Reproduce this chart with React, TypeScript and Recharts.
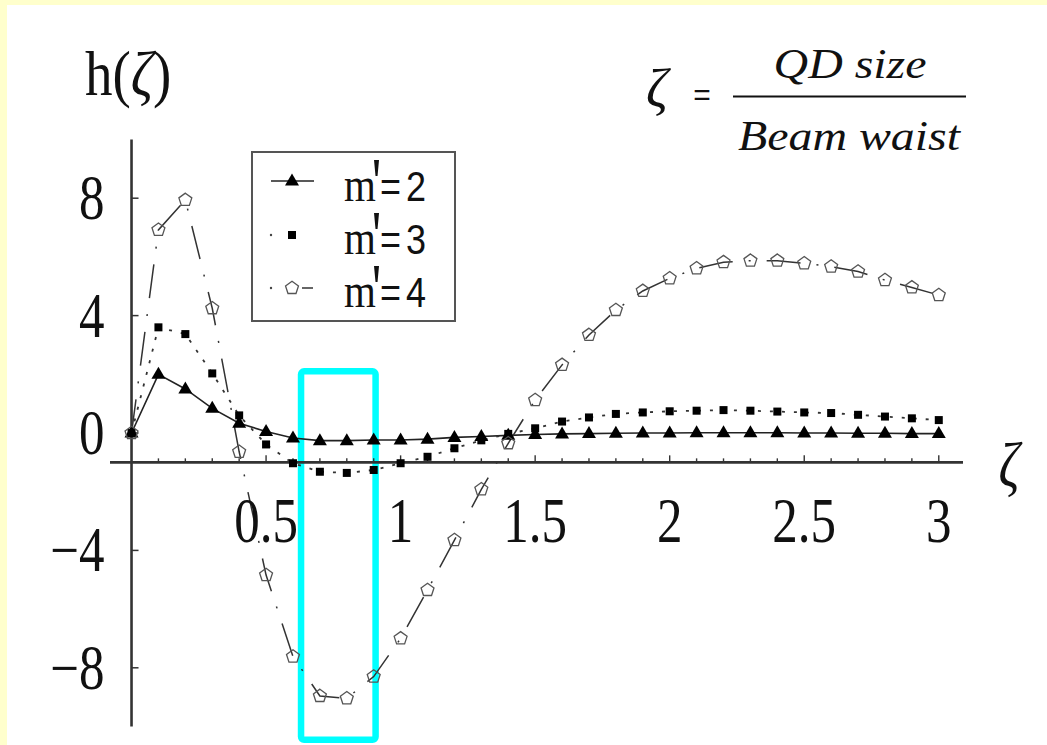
import React from 'react';
import { LineChart, Line, XAxis, YAxis, ReferenceLine, ReferenceDot, ReferenceArea, Legend } from 'recharts';

// zeta = QD size / beam waist, sampled every 0.1
const zeta = [
  0, 0.1, 0.2, 0.3, 0.4, 0.5, 0.6, 0.7, 0.8, 0.9, 1.0,
  1.1, 1.2, 1.3, 1.4, 1.5, 1.6, 1.7, 1.8, 1.9, 2.0,
  2.1, 2.2, 2.3, 2.4, 2.5, 2.6, 2.7, 2.8, 2.9, 3.0,
];

const hM2 = [
  0, 2.0, 1.5, 0.84, 0.33, 0.05, -0.17, -0.26, -0.26, -0.24, -0.24,
  -0.21, -0.15, -0.12, -0.08, -0.05, -0.03, -0.02, -0.01, 0, 0,
  0.01, 0.01, 0.01, 0.01, 0, 0, -0.01, -0.01, -0.02, -0.02,
];

const hM3 = [
  0, 3.6, 3.37, 2.03, 0.6, -0.39, -1.03, -1.32, -1.36, -1.26, -1.03,
  -0.81, -0.52, -0.25, -0.03, 0.16, 0.39, 0.53, 0.65, 0.7, 0.74,
  0.76, 0.78, 0.76, 0.73, 0.7, 0.68, 0.62, 0.56, 0.5, 0.44,
];

const hM4 = [
  0, 6.92, 7.94, 4.25, -0.64, -4.84, -7.62, -8.96, -9.04, -8.3, -7.0,
  -5.35, -3.65, -1.92, -0.35, 1.12, 2.32, 3.34, 4.19, 4.84, 5.27,
  5.61, 5.82, 5.87, 5.87, 5.78, 5.67, 5.5, 5.21, 4.96, 4.7,
];

const seriesNames = ["m'=2", "m'=3", "m'=4"];

const yTicks = [8, 4, 0, -4, -8];
const xTicks = [0.5, 1, 1.5, 2, 2.5, 3];
const xTickLabels = ['0.5', '1', '1.5', '2', '2.5', '3'];
const xMinorTicks = [
  0.1, 0.2, 0.3, 0.4, 0.5, 0.6, 0.7, 0.8, 0.9, 1.0,
  1.1, 1.2, 1.3, 1.4, 1.5, 1.6, 1.7, 1.8, 1.9, 2.0,
  2.1, 2.2, 2.3, 2.4, 2.5, 2.6, 2.7, 2.8, 2.9, 3.0,
];

// the horizontal axis crosses a little below h = 0
const xAxisAt = -1;
// highlighted window around the m'=4 minimum
const boxX = [0.63, 0.907];
const boxY = [-10.45, 2.1];

const data = zeta.map((z, i) => ({ z, m2: hM2[i], m3: hM3[i], m4: hM4[i] }));

const SERIF = '"Liberation Serif", "Times New Roman", serif';
const SANS = '"Liberation Sans", Arial, sans-serif';
const INK = '#111';

function Txt({ x, y, size, anchor = 'start', italic = false, family = SERIF, sx = 1, sy = 1, spacing, children }: any) {
  return (
    <text
      transform={`translate(${x},${y}) scale(${sx},${sy})`}
      fontSize={size}
      fontFamily={family}
      fontStyle={italic ? 'italic' : 'normal'}
      textAnchor={anchor}
      letterSpacing={spacing}
      fill={INK}
    >
      {children}
    </text>
  );
}

function pentagonPoints(cx: number, cy: number, r: number) {
  const pts: string[] = [];
  for (let k = 0; k < 5; k++) {
    const a = -Math.PI / 2 + (k * 2 * Math.PI) / 5;
    pts.push(`${cx + r * Math.cos(a)},${cy + r * Math.sin(a)}`);
  }
  return pts.join(' ');
}

const Triangle = ({ cx, cy }: any) => (
  <polygon points={`${cx},${cy - 7.5} ${cx + 7},${cy + 4.5} ${cx - 7},${cy + 4.5}`} fill="#000" />
);
const Square = ({ cx, cy }: any) => <rect x={cx - 4} y={cy - 4} width={8} height={8} fill="#000" />;
const Pentagon = ({ cx, cy }: any) => (
  <polygon points={pentagonPoints(cx, cy, 6.8)} fill="none" stroke="#555" strokeWidth={1.3} />
);

const minus = (v: number) => (v < 0 ? `\u2212${Math.abs(v)}` : `${v}`);

function LegendBox({ payload }: any) {
  const rows = (payload || []).map((p: any) => String(p.value));
  const rowY = [30, 84, 137];
  const baseY = [50, 103, 156];
  return (
    <svg width={205} height={171} style={{ display: 'block' }}>
      <rect x={1} y={1} width={203} height={169} fill="#fff" stroke="#555" strokeWidth={2} />
      {rows.map((name: string, i: number) => {
        const cy = rowY[i];
        const [, rhs] = name.split("'");
        return (
          <g key={name}>
            {i === 0 && (
              <>
                <line x1={20} y1={cy} x2={63} y2={cy} stroke="#222" strokeWidth={1.5} />
                <Triangle cx={41} cy={cy} />
              </>
            )}
            {i === 1 && (
              <>
                <circle cx={20} cy={cy} r={1.2} fill="#444" />
                <Square cx={41} cy={cy} />
              </>
            )}
            {i === 2 && (
              <>
                <circle cx={20} cy={cy} r={1.2} fill="#444" />
                <Pentagon cx={41} cy={cy} />
                <line x1={51} y1={cy} x2={62} y2={cy} stroke="#333" strokeWidth={1.5} />
              </>
            )}
            <Txt x={93} y={baseY[i]} size={41} sy={1.2}>m</Txt>
            <polygon
              points={`${123},${baseY[i] - 41} ${128},${baseY[i] - 41} ${126.5},${baseY[i] - 25} ${124.5},${baseY[i] - 25}`}
              fill={INK}
            />
            <Txt x={129} y={baseY[i]} size={36} sy={1.2} family={SANS} spacing={5}>{rhs}</Txt>
          </g>
        );
      })}
    </svg>
  );
}

export default function App() {
  return (
    <div style={{ position: 'fixed', left: 0, top: 0, width: 1047, height: 745, background: '#FFFFCC', overflow: 'hidden' }}>
      <div style={{ position: 'absolute', left: 7, top: 5, right: 0, bottom: 0, background: '#fff' }} />
      <div style={{ position: 'absolute', left: 0, top: 0 }}>
        <LineChart width={1047} height={745} data={data} margin={{ top: 139.5, right: 84, bottom: 18.5, left: 110 }}>
          <XAxis type="number" dataKey="z" domain={[-0.08, 3.09]} hide />
          <YAxis type="number" domain={[-10, 10]} hide />

          <ReferenceArea
            x1={boxX[0]}
            x2={boxX[1]}
            y1={boxY[0]}
            y2={boxY[1]}
            ifOverflow="visible"
            fill="none"
            stroke="#00FFFF"
            strokeWidth={6.5}
            radius={3}
          />

          <ReferenceLine x={0} stroke="#333" strokeWidth={2.6} />
          <ReferenceLine y={xAxisAt} stroke="#333" strokeWidth={2.6} />

          {xMinorTicks.map((t) => (
            <ReferenceDot
              key={`xm${t}`}
              x={t}
              y={xAxisAt}
              r={0}
              shape={(p: any) => (
                <line x1={p.cx} y1={p.cy} x2={p.cx} y2={p.cy - (xTicks.includes(t) ? 7 : 4)} stroke="#333" strokeWidth={1.4} />
              )}
            />
          ))}
          {xTicks.map((t, i) => (
            <ReferenceDot
              key={`xl${t}`}
              x={t}
              y={xAxisAt}
              r={0}
              shape={(p: any) => (
                <Txt x={p.cx} y={p.cy + 80} size={51} sy={1.23} anchor="middle">{xTickLabels[i]}</Txt>
              )}
            />
          ))}
          {yTicks.map((v) => (
            <ReferenceDot
              key={`y${v}`}
              x={0}
              y={v}
              r={0}
              shape={(p: any) => (
                <g>
                  <line x1={p.cx} y1={p.cy} x2={p.cx + 7} y2={p.cy} stroke="#333" strokeWidth={1.5} />
                  <Txt x={p.cx - 27} y={p.cy + 21} size={51} sy={1.23} anchor="end">{minus(v)}</Txt>
                </g>
              )}
            />
          ))}

          <Line
            type="linear"
            dataKey="m2"
            name={seriesNames[0]}
            stroke="#222"
            strokeWidth={1.6}
            dot={(p: any) => <Triangle key={`a${p.index}`} cx={p.cx} cy={p.cy} />}
            isAnimationActive={false}
          />
          <Line
            type="linear"
            dataKey="m3"
            name={seriesNames[1]}
            stroke="#333"
            strokeWidth={1.8}
            strokeDasharray="3 9"
            dot={(p: any) => <Square key={`b${p.index}`} cx={p.cx} cy={p.cy} />}
            isAnimationActive={false}
          />
          <Line
            type="linear"
            dataKey="m4"
            name={seriesNames[2]}
            stroke="#333"
            strokeWidth={1.5}
            strokeDasharray="34 16 2 16"
            dot={(p: any) => <Pentagon key={`c${p.index}`} cx={p.cx} cy={p.cy} />}
            isAnimationActive={false}
          />

          <Legend
            layout="vertical"
            align="center"
            verticalAlign="middle"
            wrapperStyle={{ left: 251, top: 151, width: 205, height: 171 }}
            content={(props: any) => <LegendBox payload={props.payload} />}
          />
        </LineChart>
      </div>

      <svg width={1047} height={745} style={{ position: 'absolute', left: 0, top: 0, pointerEvents: 'none' }}>
        <Txt x={85} y={95} size={55} sy={1.15}>
          h(<tspan fontStyle="italic">ζ</tspan>)
        </Txt>
        <Txt x={1009} y={486} size={52} sy={1.2} anchor="middle" italic>ζ</Txt>

        <Txt x={657} y={107} size={54} anchor="middle" italic>ζ</Txt>
        <Txt x={702} y={105} size={30} anchor="middle" family={SANS}>=</Txt>
        <line x1={733} y1={96.5} x2={966} y2={96.5} stroke={INK} strokeWidth={2} />
        <Txt x={850} y={78} size={42} sx={1.14} anchor="middle" italic>QD size</Txt>
        <Txt x={849} y={150} size={42} sx={1.14} anchor="middle" italic>Beam waist</Txt>
      </svg>
    </div>
  );
}
